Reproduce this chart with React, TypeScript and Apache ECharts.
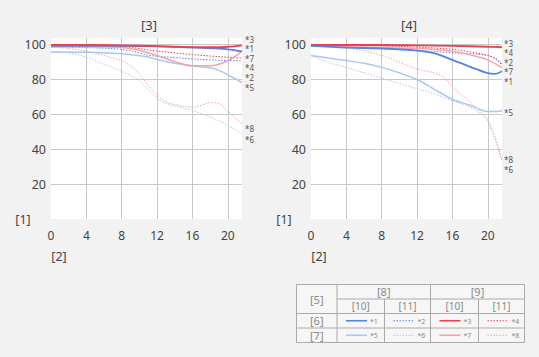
import React, { useEffect, useRef } from "react";
import * as echarts from "echarts";

// ---- data (x = image height mm, y = MTF %) ----
// Left chart [3]
const L1x = [0, 4, 8, 11.2, 16, 19, 20, 21.6];
const L1y = [99, 99, 99, 98.8, 98, 97.5, 97, 95.8];
const L2x = [0, 4, 8, 10, 11.2, 14, 16, 18, 20, 21.6];
const L2y = [98.5, 98, 97, 95, 93.5, 92.3, 91.5, 91, 90.6, 90.5];
const L3x = [0, 4, 8, 12, 16, 18, 20, 21.6];
const L3y = [99.5, 99.5, 99.3, 98.8, 98.3, 98.2, 98.5, 99.3];
const L4x = [0, 4, 8, 10, 11.2, 14, 16, 18, 20, 21.6];
const L4y = [99, 99, 98.5, 97.5, 96.5, 95, 94, 93.2, 92.5, 92];
const L5x = [0, 4, 8, 10, 11.2, 12, 14, 16, 18, 19, 20, 21.6];
const L5y = [95.5, 95.3, 94.5, 93.3, 92.3, 91.2, 89, 87.5, 86.5, 85, 82.5, 78];
const L6x = [0, 2, 4, 6, 8, 10, 11, 12, 13, 14, 16, 18, 20, 21.6];
const L6y = [95.5, 95, 92.5, 88.5, 84.5, 79, 74, 69, 66, 64.7, 62, 58.3, 53.5, 48.7];
const L7x = [0, 4, 8, 10, 11.2, 12, 14, 16, 18, 20, 21.6];
const L7y = [98.5, 98.5, 98, 96.5, 94.7, 93.5, 90, 87.6, 87.6, 90.5, 96];
const L8x = [0, 2, 4, 6, 8, 9, 10, 11, 12, 13, 14, 16, 17, 18, 19, 20, 21.6];
const L8y = [98.3, 97.5, 96, 93.5, 90.5, 87.5, 83, 76.5, 71, 67, 65.5, 64, 65, 66.5, 66, 61.5, 54.5];

// Right chart [4]
const R1x = [0, 4, 8, 12, 14, 16, 18, 20, 20.8, 21.6];
const R1y = [99, 98, 97.5, 96.3, 94.7, 91, 87, 83.4, 83, 84.5];
const R2x = [0, 4, 8, 12, 16, 18, 20, 21, 21.6];
const R2y = [99, 98.3, 97.5, 96.5, 95, 94.5, 93.5, 91.5, 88.5];
const R3x = [0, 8, 12, 16, 20, 21.6];
const R3y = [99.5, 99.5, 99.3, 99, 98.5, 98.2];
const R4x = [0, 8, 12, 16, 18, 20, 21, 21.6];
const R4y = [99.5, 99, 98.3, 97, 95.5, 93.5, 91, 88];
const R5x = [0, 2, 4, 6, 8, 10, 12, 14, 16, 18, 20, 21, 21.6];
const R5y = [93.5, 92, 90.6, 89, 86.7, 83.5, 79.8, 74, 68.5, 65, 61.5, 61.5, 62];
const R6x = [0, 2, 4, 8, 12, 14, 16, 18, 19.5, 20, 20.8, 21.6];
const R6y = [93.5, 89.5, 86.7, 80.5, 74.5, 71.5, 67.5, 64, 59, 56.5, 47, 34];
const R7x = [0, 4, 8, 12, 15, 17, 19, 20, 21.6];
const R7y = [99, 98.5, 98, 97.5, 96.5, 95, 92.5, 91, 86.5];
const R8x = [0, 4, 8, 12, 14, 15, 16, 18, 19.5, 20, 20.8, 21.6];
const R8y = [99.5, 98, 93.5, 85.7, 83.5, 81, 75.5, 67, 59.5, 56, 46, 33];

const xTicks = [0, 4, 8, 12, 16, 20];
const yTicks = [20, 40, 60, 80, 100];

const leftLabels = ["*3", "*1", "*7", "*4", "*2", "*5", "*8", "*6"];
const leftLabelY = [39, 48.5, 58, 67.5, 77, 87.5, 128, 139.5];
const rightLabels = ["*3", "*4", "*2", "*7", "*1", "*5", "*8", "*6"];
const rightLabelY = [43, 52.5, 62, 71.5, 81, 112.5, 159.5, 169.5];

const C_DB = "#5585e3";
const C_LB = "#a9c7f3";
const C_DR = "#ee3f4c";
const C_LR = "#f6a2a8";

type Sty = { color: string; width: number; dotted: boolean };
const styles: Record<number, Sty> = {
  1: { color: C_DB, width: 1.8, dotted: false },
  2: { color: C_DB, width: 1, dotted: true },
  3: { color: C_DR, width: 1.8, dotted: false },
  4: { color: C_DR, width: 1, dotted: true },
  5: { color: C_LB, width: 1.5, dotted: false },
  6: { color: C_LB, width: 1, dotted: true },
  7: { color: C_LR, width: 1.5, dotted: false },
  8: { color: C_LR, width: 1, dotted: true },
};

const pairs = (xs: number[], ys: number[]) => xs.map((x, i) => [x, ys[i]]);

const FONT = "Noto Sans";

export default function App() {
  const ref = useRef<HTMLDivElement>(null);
  useEffect(() => {
    if (!ref.current) return;
    const chart = echarts.init(ref.current, undefined, { renderer: "svg" });

    const mkSeries = (idx: number, xs: number[], ys: number[], g: number) => {
      const s = styles[idx];
      return {
        type: "line",
        xAxisIndex: g,
        yAxisIndex: g,
        data: pairs(xs, ys),
        smooth: 0.35,
        symbol: "none",
        z: idx % 2 === 1 ? 3 : 2,
        lineStyle: {
          color: s.color,
          width: s.width,
          type: s.dotted ? [1.5, 1.5] : "solid",
        },
      };
    };

    const order = [6, 5, 8, 7, 2, 1, 4, 3];
    const leftData: Record<number, [number[], number[]]> = {
      1: [L1x, L1y], 2: [L2x, L2y], 3: [L3x, L3y], 4: [L4x, L4y],
      5: [L5x, L5y], 6: [L6x, L6y], 7: [L7x, L7y], 8: [L8x, L8y],
    };
    const rightData: Record<number, [number[], number[]]> = {
      1: [R1x, R1y], 2: [R2x, R2y], 3: [R3x, R3y], 4: [R4x, R4y],
      5: [R5x, R5y], 6: [R6x, R6y], 7: [R7x, R7y], 8: [R8x, R8y],
    };
    const series: any[] = [];
    order.forEach((i) => series.push(mkSeries(i, leftData[i][0], leftData[i][1], 0)));
    order.forEach((i) => series.push(mkSeries(i, rightData[i][0], rightData[i][1], 1)));

    const xAxis = (g: number) => ({
      type: "value",
      gridIndex: g,
      min: 0,
      max: 21.6,
      interval: 4,
      axisLine: { show: false },
      axisTick: { show: false },
      axisLabel: {
        color: "#444",
        fontSize: 12,
        fontFamily: FONT,
        margin: 10,
        showMaxLabel: false,
        formatter: (v: number) => (xTicks.includes(v) ? String(v) : ""),
      },
      splitLine: {
        show: true,
        showMinLine: false,
        showMaxLine: false,
        lineStyle: { color: "#c9c9c9", width: 1 },
      },
    });
    const yAxis = (g: number) => ({
      type: "value",
      gridIndex: g,
      min: 0,
      max: 103.5,
      interval: 20,
      axisLine: { show: false },
      axisTick: { show: false },
      axisLabel: {
        color: "#444",
        fontSize: 12.5,
        fontFamily: FONT,
        margin: 5,
        showMaxLabel: false,
        formatter: (v: number) => (yTicks.includes(v) ? String(v) : ""),
      },
      splitLine: {
        show: true,
        showMinLine: false,
        showMaxLine: false,
        lineStyle: { color: "#c9c9c9", width: 1 },
      },
    });

    const txt = (text: string, x: number, y: number, size: number, color: string, align = "center", lh?: number) => ({
      type: "text",
      x,
      y,
      style: {
        text,
        fill: color,
        fontSize: size,
        fontFamily: FONT,
        align,
        verticalAlign: "middle",
        lineHeight: lh,
      },
    });
    const ln = (x1: number, y1: number, x2: number, y2: number, color = "#aaaaaa", width = 1, dash?: number[]) => ({
      type: "line",
      shape: { x1, y1, x2, y2 },
      style: { stroke: color, lineWidth: width, lineDash: dash },
    });

    const graphics: any[] = [];
    graphics.push(txt("[3]", 149, 25, 13, "#444"));
    graphics.push(txt("[4]", 409, 25, 13, "#444"));
    graphics.push(txt("[1]", 23, 219, 12.5, "#444"));
    graphics.push(txt("[1]", 284, 219, 12.5, "#444"));
    graphics.push(txt("[2]", 59, 256, 12.5, "#444"));
    graphics.push(txt("[2]", 319, 256, 12.5, "#444"));
    leftLabels.forEach((t, i) => graphics.push(txt(t, 245, leftLabelY[i], 8, "#555", "left", 8)));
    rightLabels.forEach((t, i) => graphics.push(txt(t, 504, rightLabelY[i], 8, "#555", "left", 8)));

    // legend table
    const tx0 = 296.5, tx1 = 524.5, ty0 = 284.5, ty1 = 342.5;
    const cx = [296.5, 337, 384.5, 430.5, 478.5, 524.5];
    const ry = [284.5, 299, 313.5, 328, 342.5];
    graphics.push({
      type: "rect",
      shape: { x: tx0, y: ty0, width: tx1 - tx0, height: ty1 - ty0 },
      style: { fill: "#f6f6f6", stroke: "#aaaaaa", lineWidth: 1 },
    });
    graphics.push(ln(cx[1], ry[0], cx[1], ry[4]));
    graphics.push(ln(cx[3], ry[0], cx[3], ry[4]));
    graphics.push(ln(cx[2], ry[1], cx[2], ry[4]));
    graphics.push(ln(cx[4], ry[1], cx[4], ry[4]));
    graphics.push(ln(cx[1], ry[1], cx[5], ry[1]));
    graphics.push(ln(cx[0], ry[2], cx[5], ry[2]));
    graphics.push(ln(cx[0], ry[3], cx[5], ry[3]));
    const tc = "#8a8a8a";
    graphics.push(txt("[5]", (cx[0] + cx[1]) / 2, (ry[0] + ry[2]) / 2, 11, tc));
    graphics.push(txt("[8]", (cx[1] + cx[3]) / 2, (ry[0] + ry[1]) / 2, 11, tc));
    graphics.push(txt("[9]", (cx[3] + cx[5]) / 2, (ry[0] + ry[1]) / 2, 11, tc));
    ["[10]", "[11]", "[10]", "[11]"].forEach((t, i) =>
      graphics.push(txt(t, (cx[i + 1] + cx[i + 2]) / 2, (ry[1] + ry[2]) / 2, 10, tc))
    );
    graphics.push(txt("[6]", (cx[0] + cx[1]) / 2, (ry[2] + ry[3]) / 2, 11, tc));
    graphics.push(txt("[7]", (cx[0] + cx[1]) / 2, (ry[3] + ry[4]) / 2, 11, tc));
    const legendRows = [[1, 2, 3, 4], [5, 6, 7, 8]];
    legendRows.forEach((row, r) => {
      const yy = (ry[r + 2] + ry[r + 3]) / 2;
      row.forEach((id, c) => {
        const s = styles[id];
        const x0 = cx[c + 1] + 9;
        graphics.push(ln(x0, yy, x0 + 21, yy, s.color, s.dotted ? 1 : 1.6, s.dotted ? [1.5, 1.5] : undefined));
        graphics.push(txt("*" + id, x0 + 24, yy + 0.5, 7, "#888", "left"));
      });
    });

    chart.setOption({
      animation: false,
      backgroundColor: "#f2f2f2",
      grid: [
        { left: 51, top: 38, width: 191, height: 181, show: true, backgroundColor: "#ffffff", borderWidth: 0 },
        { left: 311, top: 38, width: 191, height: 181, show: true, backgroundColor: "#ffffff", borderWidth: 0 },
      ],
      xAxis: [xAxis(0), xAxis(1)],
      yAxis: [yAxis(0), yAxis(1)],
      series,
      graphic: graphics,
    });
    return () => chart.dispose();
  }, []);

  return (
    <div
      ref={ref}
      style={{ position: "fixed", left: 0, top: 0, width: 539, height: 357, background: "#f2f2f2" }}
    />
  );
}
